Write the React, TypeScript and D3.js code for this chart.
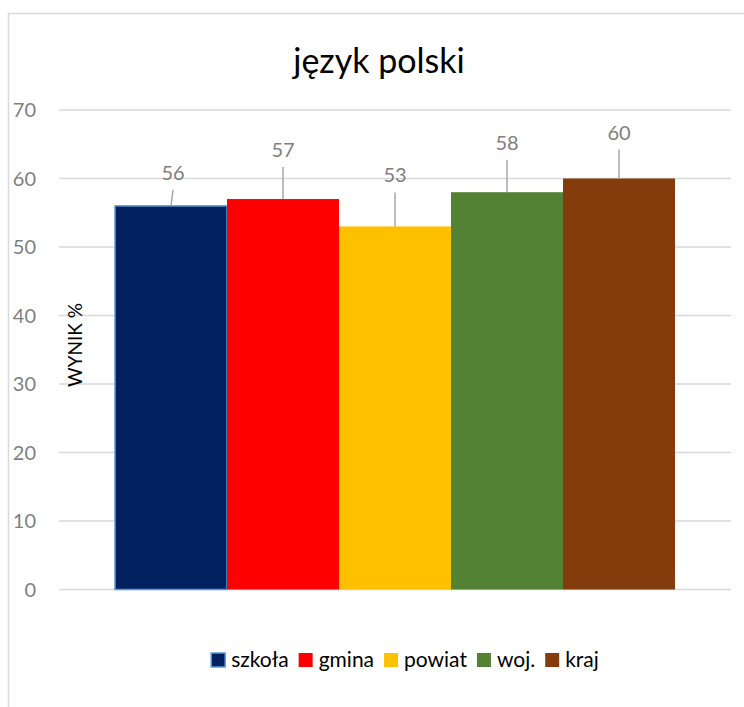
import React, { useRef, useEffect } from "react";
import * as d3 from "d3";

// data
const seriesNames = ["szkoła", "gmina", "powiat", "woj.", "kraj"];
const seriesValues = [56, 57, 53, 58, 60];
const yTicks = [0, 10, 20, 30, 40, 50, 60, 70];

// styling / label layout (Excel labels were dragged by hand)
const colors = ["#002060", "#ff0000", "#ffc000", "#548235", "#843c0c"];
const labelLift = [26, 42, 44, 42, 39];
const labelShift = [2, 0, 0, 0, 0];

const W = 744;
const H = 707;
const FONT = "Lato, 'Open Sans', sans-serif";

export default function App() {
  const ref = useRef<SVGSVGElement>(null);

  useEffect(() => {
    const svg = d3.select(ref.current);
    svg.selectAll("*").remove();

    // chart area border
    svg.append("rect")
      .attr("x", 8.5).attr("y", 13.5)
      .attr("width", 800).attr("height", 800)
      .attr("fill", "#fff")
      .attr("stroke", "#d9d9d9").attr("stroke-width", 1.5);

    const x = d3.scaleBand<string>()
      .domain(seriesNames)
      .range([59, 731])
      .paddingInner(0)
      .paddingOuter(0.5);
    const y = d3.scaleLinear().domain([0, 70]).range([589.5, 110]);

    // gridlines
    svg.append("g")
      .selectAll("line")
      .data(yTicks)
      .join("line")
      .attr("x1", 59).attr("x2", 731)
      .attr("y1", d => y(d)).attr("y2", d => y(d))
      .attr("stroke", "#d9d9d9").attr("stroke-width", 1.5);

    // tick labels
    svg.append("g")
      .selectAll("text")
      .data(yTicks)
      .join("text")
      .attr("x", 36).attr("y", d => y(d) + 7)
      .attr("text-anchor", "end")
      .attr("font-family", FONT).attr("font-size", 20)
      .attr("fill", "#7f7f7f")
      .text(d => d);

    // bars
    svg.append("g")
      .selectAll("rect")
      .data(seriesValues)
      .join("rect")
      .attr("x", (d, i) => x(seriesNames[i])!)
      .attr("y", d => y(d))
      .attr("width", x.bandwidth())
      .attr("height", d => y(0) - y(d))
      .attr("fill", (d, i) => colors[i])
      .attr("stroke", (d, i) => (i === 0 ? "#5b9bd5" : "none"))
      .attr("stroke-width", 1.5);

    // leader lines + labels
    const lab = svg.append("g");
    seriesValues.forEach((v, i) => {
      const cx = x(seriesNames[i])! + x.bandwidth() / 2;
      const top = y(v);
      const base = top - labelLift[i];
      lab.append("line")
        .attr("x1", cx + labelShift[i]).attr("y1", base + 10)
        .attr("x2", cx).attr("y2", top)
        .attr("stroke", "#a6a6a6").attr("stroke-width", 1.5);
      lab.append("text")
        .attr("x", cx + labelShift[i]).attr("y", base)
        .attr("text-anchor", "middle")
        .attr("font-family", FONT).attr("font-size", 20)
        .attr("fill", "#7f7f7f")
        .text(v);
    });

    // title
    svg.append("text")
      .attr("x", 379).attr("y", 73)
      .attr("text-anchor", "middle")
      .attr("font-family", FONT).attr("font-size", 34)
      .attr("fill", "#000")
      .text("język polski");

    // axis title
    svg.append("text")
      .attr("transform", "translate(82,345) rotate(-90)")
      .attr("text-anchor", "middle")
      .attr("font-family", FONT).attr("font-size", 19)
      .attr("fill", "#000")
      .text("WYNIK %");

    // legend
    const lg = svg.append("g");
    let cur = 0;
    seriesNames.forEach((name, i) => {
      const item = lg.append("g").attr("transform", `translate(${cur},0)`);
      item.append("rect")
        .attr("x", 0).attr("y", 653)
        .attr("width", 14).attr("height", 14)
        .attr("fill", colors[i])
        .attr("stroke", i === 0 ? "#5b9bd5" : "none")
        .attr("stroke-width", 1.5);
      const t = item.append("text")
        .attr("x", 20).attr("y", 667)
        .attr("font-family", FONT).attr("font-size", 21)
        .attr("fill", "#000")
        .text(name);
      const w = (t.node() as SVGTextElement).getComputedTextLength();
      cur += 20 + w + 10;
    });
    const total = cur - 10;
    lg.attr("transform", `translate(${405 - total / 2},0)`);
  }, []);

  return (
    <svg
      ref={ref}
      width={W}
      height={H}
      style={{ position: "absolute", left: 0, top: 0, background: "#fff" }}
    />
  );
}
